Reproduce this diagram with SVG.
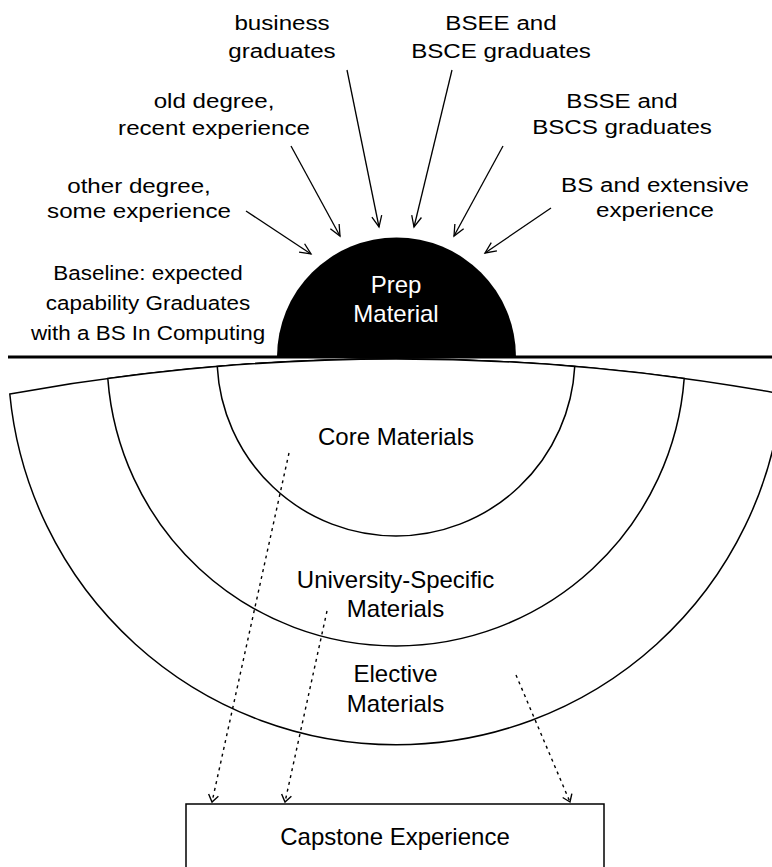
<svg xmlns="http://www.w3.org/2000/svg" width="772" height="867" viewBox="0 0 772 867">
  <style>
    .band { fill: #fff; stroke: #000; stroke-width: 1.5; }
    .lbl { font-family: "Liberation Sans", Arial, sans-serif; font-size: 21px; fill: #000; text-anchor: middle; }
    .lbl-s { font-size: 19.5px; }
    .big { font-family: "Liberation Sans", Arial, sans-serif; font-size: 24px; fill: #000; text-anchor: middle; }
    .inv { fill: #fff; }
    .feed { stroke: #000; stroke-width: 1.3; fill: none; marker-end: url(#arrowOpen); }
    .flow { stroke: #000; stroke-width: 1.4; fill: none; stroke-dasharray: 3 4; marker-end: url(#arrowSmall); }
  </style>
  <defs>
    <marker id="arrowOpen" markerUnits="userSpaceOnUse" viewBox="-12 -7 14 14" markerWidth="14" markerHeight="14" refX="0" refY="0" orient="auto" overflow="visible">
      <path d="M-11,-5 L0,0 L-11,5" fill="none" stroke="#000" stroke-width="1.3"/>
    </marker>
    <marker id="arrowSmall" markerUnits="userSpaceOnUse" viewBox="-10 -7 12 14" markerWidth="12" markerHeight="14" refX="0" refY="0" orient="auto" overflow="visible">
      <path d="M-7,-5 L0,0 L-7,5" fill="none" stroke="#000" stroke-width="1.4"/>
    </marker>
  </defs>

  <rect width="772" height="867" fill="#fff"/>

  <!-- concentric material bands below the baseline -->
  <g id="elective">
    <path class="band" d="M9.8,394.05 A2146,2146 0 0 1 782.2,394.05 A388,388 0 0 1 9.8,394.05 Z"/>
    <text class="big"><tspan x="395.5" y="682">Elective</tspan><tspan x="395.5" y="712">Materials</tspan></text>
  </g>
  <g id="university">
    <path class="band" d="M107.8,378.4 A2146,2146 0 0 1 684.2,378.4 A289,289 0 0 1 107.8,378.4 Z"/>
    <text class="big"><tspan x="395.5" y="588">University-Specific</tspan><tspan x="395.5" y="617">Materials</tspan></text>
  </g>
  <g id="core">
    <path class="band" d="M217.25,366.4 A2146,2146 0 0 1 574.75,366.4 A179,179 0 0 1 217.25,366.4 Z"/>
    <text class="big" x="396" y="445">Core Materials</text>
  </g>

  <!-- prep dome sitting on the baseline -->
  <g id="prep">
    <path d="M277,357 A119.5,119.5 0 0 1 516,357 Z" fill="#000"/>
    <text class="big inv"><tspan x="396" y="293">Prep</tspan><tspan x="396" y="322">Material</tspan></text>
  </g>

  <g id="baseline">
    <line x1="8" y1="357" x2="772" y2="357" stroke="#000" stroke-width="3"/>
    <text class="lbl lbl-s" transform="translate(148 0) scale(1.15 1)"><tspan x="0" y="280">Baseline: expected</tspan><tspan x="0" y="310">capability Graduates</tspan><tspan x="0" y="340">with a BS In Computing</tspan></text>
  </g>

  <g id="capstone">
    <rect x="186" y="804" width="418" height="80" fill="#fff" stroke="#000" stroke-width="1.5"/>
    <text class="big" x="395" y="845">Capstone Experience</text>
  </g>

  <!-- student entry groups -->
  <g id="src-business">
    <text class="lbl" transform="translate(282 0) scale(1.15 1)"><tspan x="0" y="30">business</tspan><tspan x="0" y="58.5">graduates</tspan></text>
  </g>
  <g id="src-bsee">
    <text class="lbl" transform="translate(501 0) scale(1.15 1)"><tspan x="0" y="30">BSEE and</tspan><tspan x="0" y="58.5">BSCE graduates</tspan></text>
  </g>
  <g id="src-old">
    <text class="lbl" transform="translate(214 0) scale(1.15 1)"><tspan x="0" y="108">old degree,</tspan><tspan x="0" y="135">recent experience</tspan></text>
  </g>
  <g id="src-bsse">
    <text class="lbl" transform="translate(622 0) scale(1.15 1)"><tspan x="0" y="108">BSSE and</tspan><tspan x="0" y="134">BSCS graduates</tspan></text>
  </g>
  <g id="src-other">
    <text class="lbl" transform="translate(139 0) scale(1.15 1)"><tspan x="0" y="193">other degree,</tspan><tspan x="0" y="218">some experience</tspan></text>
  </g>
  <g id="src-bs-exp">
    <text class="lbl" transform="translate(655 0) scale(1.15 1)"><tspan x="0" y="192">BS and extensive</tspan><tspan x="0" y="217">experience</tspan></text>
  </g>

  <!-- connectors -->
  <g id="connectors">
    <line class="feed" x1="246" y1="211" x2="311" y2="254"/>
    <line class="feed" x1="291" y1="146" x2="340" y2="236"/>
    <line class="feed" x1="347" y1="70" x2="379" y2="227"/>
    <line class="feed" x1="452" y1="70" x2="414" y2="227"/>
    <line class="feed" x1="503" y1="146" x2="454" y2="236"/>
    <line class="feed" x1="551" y1="208" x2="485" y2="253"/>

    <line class="flow" x1="289" y1="453" x2="212" y2="802"/>
    <line class="flow" x1="327" y1="611" x2="285" y2="802"/>
    <line class="flow" x1="516" y1="675" x2="570" y2="802"/>
  </g>
</svg>
